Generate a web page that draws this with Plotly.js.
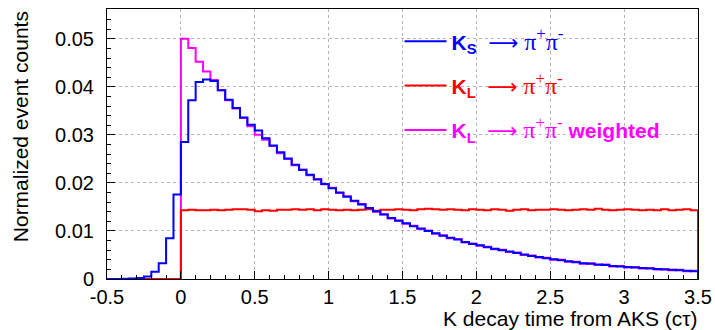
<!DOCTYPE html>
<html>
<head>
<meta charset="utf-8">
<script src="https://cdn.plot.ly/plotly-3.0.1.min.js"></script>
<style>html,body{margin:0;padding:0;background:#fff}#chart{width:715px;height:330px}</style>
</head>
<body>
<div id="chart"></div>
<script>
// Histogram binning: 80 bins of width 0.05 from -0.5 to 3.5
const binStart = -0.5;
const binWidth = 0.05;

// K_S -> pi+pi- (blue)
const ksValues = [
  0.0000, 0.0000, 0.00003, 0.00008, 0.0002, 0.0005, 0.0015, 0.0033, 0.0085, 0.0176,
  0.0285, 0.0372, 0.0410, 0.0415, 0.0412, 0.0393, 0.0373, 0.0356, 0.0336, 0.0321,
  0.0309, 0.0293, 0.0278, 0.0264, 0.0251, 0.0238, 0.0227, 0.0217, 0.0207, 0.0198,
  0.0189, 0.0180, 0.0171, 0.0163, 0.0155, 0.0148, 0.0141, 0.0134, 0.0127, 0.0121,
  0.0116, 0.0110, 0.0105, 0.0100, 0.0095, 0.0090, 0.0086, 0.0082, 0.0077, 0.0073,
  0.0070, 0.0066, 0.0063, 0.0060, 0.0057, 0.0054, 0.0051, 0.0048, 0.0046, 0.0043,
  0.0041, 0.0039, 0.0037, 0.0035, 0.0033, 0.0032, 0.0030, 0.0029, 0.0027, 0.0026,
  0.0025, 0.0024, 0.0023, 0.0022, 0.0021, 0.0020, 0.0019, 0.0018, 0.0017, 0.0016
];

// K_L -> pi+pi- (red)
const klValues = [
  0, 0, 0, 0, 0, 0, 0, 0, 0, 0,
  0.0143, 0.0144, 0.0143, 0.0143, 0.0144, 0.0143, 0.0144, 0.0145, 0.0145, 0.0144,
  0.0141, 0.0143, 0.0142, 0.0144, 0.0144, 0.0145, 0.0144, 0.0145, 0.0143, 0.0145,
  0.0144, 0.0143, 0.0144, 0.0143, 0.0144, 0.0145, 0.0142, 0.0144, 0.0144, 0.0145,
  0.0144, 0.0143, 0.0145, 0.0146, 0.0145, 0.0144, 0.0145, 0.0144, 0.0143, 0.0145,
  0.0144, 0.0143, 0.0145, 0.0144, 0.0142, 0.0144, 0.0145, 0.0143, 0.0144, 0.0144,
  0.0145, 0.0144, 0.0143, 0.0144, 0.0145, 0.0144, 0.0146, 0.0144, 0.0143, 0.0144,
  0.0145, 0.0144, 0.0143, 0.0144, 0.0143, 0.0145, 0.0143, 0.0144, 0.0145, 0.0143
];

// K_L -> pi+pi- weighted (magenta)
const klWeightedValues = [
  0, 0, 0, 0, 0, 0, 0, 0, 0, 0,
  0.0500, 0.0481, 0.0452, 0.0432, 0.0414, 0.0393, 0.0372, 0.0355, 0.0335, 0.0318,
  0.0300, 0.0290, 0.0277, 0.0262, 0.0250, 0.0237, 0.0228, 0.0216, 0.0208, 0.0197,
  0.0190, 0.0179, 0.0172, 0.0162, 0.0156, 0.0147, 0.0140, 0.0135, 0.0126, 0.0122,
  0.0115, 0.0111, 0.0104, 0.0101, 0.0094, 0.0091, 0.0085, 0.0083, 0.0076, 0.0074,
  0.0069, 0.0067, 0.0062, 0.0061, 0.0056, 0.0055, 0.0050, 0.0049, 0.0045, 0.0044,
  0.0040, 0.0040, 0.0036, 0.0036, 0.0032, 0.0033, 0.0029, 0.0030, 0.0026, 0.0027,
  0.0024, 0.0025, 0.0022, 0.0023, 0.0020, 0.0021, 0.0018, 0.0019, 0.0016, 0.0017
];

// Tick labels
const xTickVals = [-0.5, 0, 0.5, 1, 1.5, 2, 2.5, 3, 3.5];
const xTickText = ['-0.5', '0', '0.5', '1', '1.5', '2', '2.5', '3', '3.5'];
const yTickVals = [0, 0.01, 0.02, 0.03, 0.04, 0.05];
const yTickText = ['0', '0.01', '0.02', '0.03', '0.04', '0.05'];

// Labels
const arrow = '<span style="font-family:DejaVu Sans">⟶</span>';
const pipi = '<span style="font-family:Liberation Serif;font-size:24px">π<sup>+</sup>π<sup>-</sup></span>';
const seriesNames = [
  '<span style="color:#0000ff"><b>K<sub>S</sub></b>\u00a0\u00a0' + arrow + '\u00a0' + pipi + '</span>',
  '<span style="color:#ff0000"><b>K<sub>L</sub></b>\u00a0\u00a0' + arrow + '\u00a0' + pipi + '</span>',
  '<span style="color:#ff00ff"><b>K<sub>L</sub></b>\u00a0\u00a0' + arrow + '\u00a0' + pipi + '\u00a0<b>weighted</b></span>'
];
const xTitle = 'K decay time from AKS (cτ)';
const yTitle = 'Normalized event counts';

function stepTrace(values, name, color, rank) {
  const x = [], y = [];
  for (let i = 0; i < values.length; i++) { x.push(binStart + i * binWidth); y.push(values[i]); }
  const end = binStart + values.length * binWidth;
  x.push(end); y.push(values[values.length - 1]);
  x.push(end); y.push(0);
  return {
    type: 'scatter', mode: 'lines', x: x, y: y, name: name,
    line: {shape: 'hv', color: color, width: 2},
    legendrank: rank, legendgroup: 'g' + rank, hoverinfo: 'skip'
  };
}

const data = [
  stepTrace(klWeightedValues, seriesNames[2], '#ff00ff', 3),
  stepTrace(klValues, seriesNames[1], '#ff0000', 2),
  stepTrace(ksValues, seriesNames[0], '#0000ff', 1)
];

const axisCommon = {
  showline: true, mirror: true, linecolor: '#000', linewidth: 1,
  ticks: 'inside', ticklen: 8, tickcolor: '#000', tickwidth: 1,
  showgrid: true, gridcolor: '#b4b4b4', griddash: 'dot', gridwidth: 1,
  zeroline: false, tickfont: {size: 20, color: '#000'}
};

const layout = {
  width: 715, height: 330,
  margin: {l: 107, r: 17, t: 9, b: 51, pad: 0},
  paper_bgcolor: '#fff', plot_bgcolor: '#fff',
  font: {family: 'Liberation Sans, Arial, sans-serif', color: '#000'},
  showlegend: true,
  legend: {
    x: 0.495, y: 0.955, xanchor: 'left', yanchor: 'top',
    bgcolor: 'rgba(0,0,0,0)', borderwidth: 0, itemwidth: 42,
    font: {size: 21}, tracegroupgap: 14, traceorder: 'grouped'
  },
  xaxis: Object.assign({}, axisCommon, {
    range: [-0.5, 3.5], tickmode: 'array', tickvals: xTickVals, ticktext: xTickText,
    minor: {tickmode: 'linear', tick0: 0, dtick: 0.1, ticks: 'inside', ticklen: 4, tickcolor: '#000', showgrid: false}
  }),
  yaxis: Object.assign({}, axisCommon, {
    range: [0, 0.0562], tickmode: 'array', tickvals: yTickVals, ticktext: yTickText,
    ticklabelstandoff: 8,
    minor: {tickmode: 'linear', tick0: 0, dtick: 0.002, ticks: 'inside', ticklen: 4, tickcolor: '#000', showgrid: false}
  }),
  annotations: [
    {text: xTitle, xref: 'paper', yref: 'paper', x: 1.003, y: -0.145, xanchor: 'right', yanchor: 'middle',
     showarrow: false, font: {size: 21}},
    {text: yTitle, xref: 'paper', yref: 'paper', x: -0.146, y: 1.0, xanchor: 'center', yanchor: 'top',
     textangle: -90, showarrow: false, font: {size: 21}}
  ]
};

Plotly.newPlot('chart', data, layout, {displayModeBar: false, staticPlot: true});
</script>
</body>
</html>
